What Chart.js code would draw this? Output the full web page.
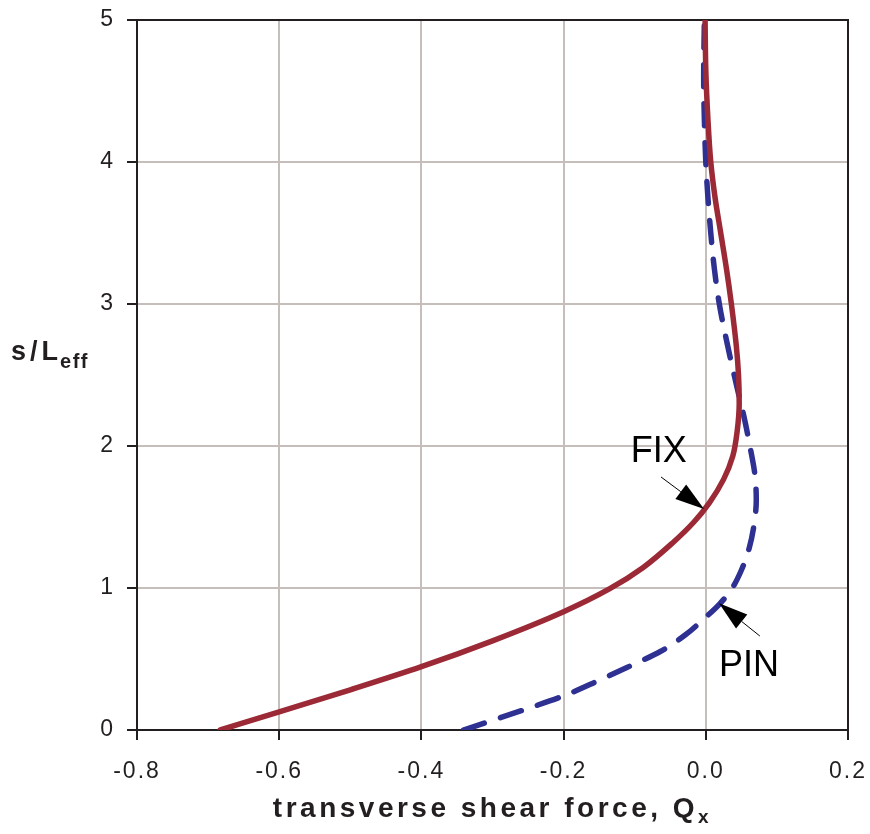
<!DOCTYPE html>
<html>
<head>
<meta charset="utf-8">
<script src="https://cdn.jsdelivr.net/npm/chart.js@4.4.1/dist/chart.umd.min.js"></script>
<style>
  html, body { margin: 0; padding: 0; background: #fff; }
  #wrap { width: 870px; height: 834px; }
</style>
</head>
<body>
<div id="wrap"><canvas id="chart" width="870" height="834"></canvas></div>
<script>
// FIX (clamped) curve: s/Leff against Qx
const fixS = [0, 0.127, 0.283, 0.446, 0.628, 0.833, 0.995, 1.145, 1.321, 1.463, 1.6, 1.765, 1.93, 2.1, 2.3, 2.5, 2.7, 3.0, 3.25, 3.5, 3.75, 4.0, 4.3, 4.65, 5.0];
const fixQ = [-0.683, -0.6, -0.5, -0.4, -0.3, -0.2, -0.135, -0.088, -0.046, -0.017, 0.005, 0.025, 0.038, 0.044, 0.047, 0.046, 0.043, 0.036, 0.029, 0.021, 0.013, 0.007, 0.003, 0.0, -0.001];
// PIN (pinned) curve
const pinS = [0, 0.068, 0.152, 0.24, 0.35, 0.44, 0.553, 0.665, 0.795, 0.885, 0.99, 1.125, 1.28, 1.45, 1.62, 1.8, 2.0, 2.2, 2.39, 2.7, 3.0, 3.25, 3.5, 3.75, 4.0, 4.3, 4.6, 5.0];
const pinQ = [-0.341, -0.3, -0.25, -0.2, -0.15, -0.111, -0.064, -0.03, 0.0, 0.019, 0.036, 0.05, 0.061, 0.068, 0.071, 0.069, 0.062, 0.054, 0.045, 0.031, 0.019, 0.012, 0.007, 0.003, 0.0, -0.002, -0.003, -0.002];

const xTicks = [-0.8, -0.6, -0.4, -0.2, 0.0, 0.2];
const yTicks = [0, 1, 2, 3, 4, 5];

// annotation anchors, in data units: [tipQ, tipS, tailQ, tailS, textQ, textS]
const fixNote = [-0.0025, 1.556, -0.063, 1.782, -0.066, 1.887];
const pinNote = [0.0186, 0.892, 0.076, 0.662, 0.0608, 0.380];

const FONT = '"Liberation Sans", Arial, sans-serif';
const INK = '#231f20';
const GRID = '#c6bebb';

function toPoints(qs, ss) {
  return qs.map((q, i) => ({ x: q, y: ss[i] }));
}

const framePlugin = {
  id: 'frame',
  beforeDraw(chart) {
    chart.ctx.letterSpacing = '2px';
  },
  beforeDatasetsDraw(chart) {
    const { ctx, chartArea: a } = chart;
    ctx.save();
    ctx.strokeStyle = INK;
    ctx.lineWidth = 2;
    ctx.beginPath();
    ctx.moveTo(a.left, a.top);
    ctx.lineTo(a.right, a.top);
    ctx.lineTo(a.right, a.bottom);
    ctx.stroke();
    ctx.restore();
  }
};

function arrow(ctx, x0, y0, x1, y1) {
  const ang = Math.atan2(y1 - y0, x1 - x0);
  const len = 29, half = 9;
  const bx = x1 - len * Math.cos(ang), by = y1 - len * Math.sin(ang);
  ctx.strokeStyle = '#000';
  ctx.lineWidth = 1;
  ctx.beginPath();
  ctx.moveTo(x0, y0);
  ctx.lineTo(bx, by);
  ctx.stroke();
  ctx.fillStyle = '#000';
  ctx.beginPath();
  ctx.moveTo(x1, y1);
  ctx.lineTo(bx + half * Math.sin(ang), by - half * Math.cos(ang));
  ctx.lineTo(bx - half * Math.sin(ang), by + half * Math.cos(ang));
  ctx.closePath();
  ctx.fill();
}

const notesPlugin = {
  id: 'notes',
  afterDatasetsDraw(chart) {
    const { ctx, scales: { x, y } } = chart;
    ctx.save();
    ctx.letterSpacing = '0px';
    [[fixNote, 'FIX'], [pinNote, 'PIN']].forEach(([n, txt]) => {
      arrow(ctx, x.getPixelForValue(n[2]), y.getPixelForValue(n[3]),
                 x.getPixelForValue(n[0]), y.getPixelForValue(n[1]));
      ctx.font = '36px ' + FONT;
      ctx.fillStyle = '#000';
      ctx.textAlign = 'center';
      ctx.textBaseline = 'alphabetic';
      ctx.fillText(txt, x.getPixelForValue(n[4]), y.getPixelForValue(n[5]));
    });
    ctx.restore();
  },
  afterDraw(chart) {
    const { ctx, chartArea: a } = chart;
    ctx.save();
    ctx.fillStyle = INK;
    ctx.textBaseline = 'alphabetic';
    ctx.textAlign = 'left';

    // x axis title with subscript
    ctx.letterSpacing = '3.5px';
    ctx.font = 'bold 28px ' + FONT;
    const main = 'transverse shear force, Q';
    const w1 = ctx.measureText(main).width;
    ctx.font = 'bold 19px ' + FONT;
    const w2 = ctx.measureText('x').width;
    let x0 = (a.left + a.right) / 2 - (w1 + w2) / 2;
    ctx.font = 'bold 28px ' + FONT;
    ctx.fillText(main, x0, 817);
    ctx.font = 'bold 19px ' + FONT;
    ctx.fillText('x', x0 + w1, 823);

    // y axis title with subscript
    ctx.letterSpacing = '4px';
    ctx.font = 'bold 27px ' + FONT;
    ctx.fillText('s/L', 11, 360);
    const w3 = ctx.measureText('s/L').width;
    ctx.letterSpacing = '1.5px';
    ctx.font = 'bold 20px ' + FONT;
    ctx.fillText('eff', 9 + w3, 368);
    ctx.restore();
  }
};

new Chart(document.getElementById('chart'), {
  type: 'scatter',
  data: {
    datasets: [
      {
        label: 'FIX',
        data: toPoints(fixQ, fixS),
        showLine: true,
        indexAxis: 'y',
        cubicInterpolationMode: 'monotone',
        borderColor: '#9b2a36',
        backgroundColor: '#9b2a36',
        borderWidth: 5.5,
        pointRadius: 0,
        borderCapStyle: 'round'
      },
      {
        label: 'PIN',
        data: toPoints(pinQ, pinS),
        showLine: true,
        indexAxis: 'y',
        cubicInterpolationMode: 'monotone',
        borderColor: '#2e3192',
        backgroundColor: '#2e3192',
        borderWidth: 5.5,
        borderDash: [22, 17],
        borderCapStyle: 'round',
        pointRadius: 0
      }
    ]
  },
  options: {
    responsive: false,
    animation: false,
    devicePixelRatio: 1,
    layout: { padding: { top: 20, right: 22, left: 0, bottom: 0 } },
    plugins: {
      legend: { display: false },
      tooltip: { enabled: false }
    },
    scales: {
      x: {
        type: 'linear',
        min: -0.8,
        max: 0.2,
        afterBuildTicks: s => { s.ticks = xTicks.map(v => ({ value: v })); },
        afterFit: s => { s.height = 104; s.paddingLeft = 0; s.paddingRight = 0; },
        ticks: {
          callback: v => v.toFixed(1),
          font: { family: FONT, size: 23 },
          color: INK,
          padding: 18,
          maxRotation: 0
        },
        grid: { color: GRID, lineWidth: 2, tickLength: 10, tickColor: INK, tickWidth: 2 },
        border: { color: INK, width: 2 }
      },
      y: {
        type: 'linear',
        min: 0,
        max: 5,
        afterBuildTicks: s => { s.ticks = yTicks.map(v => ({ value: v })); },
        afterFit: s => { s.width = 137; s.paddingTop = 0; s.paddingBottom = 0; },
        ticks: {
          callback: v => String(v),
          font: { family: FONT, size: 23 },
          color: INK,
          padding: 12
        },
        grid: { color: GRID, lineWidth: 2, tickLength: 10, tickColor: INK, tickWidth: 2 },
        border: { color: INK, width: 2 }
      }
    }
  },
  plugins: [framePlugin, notesPlugin]
});
</script>
</body>
</html>
